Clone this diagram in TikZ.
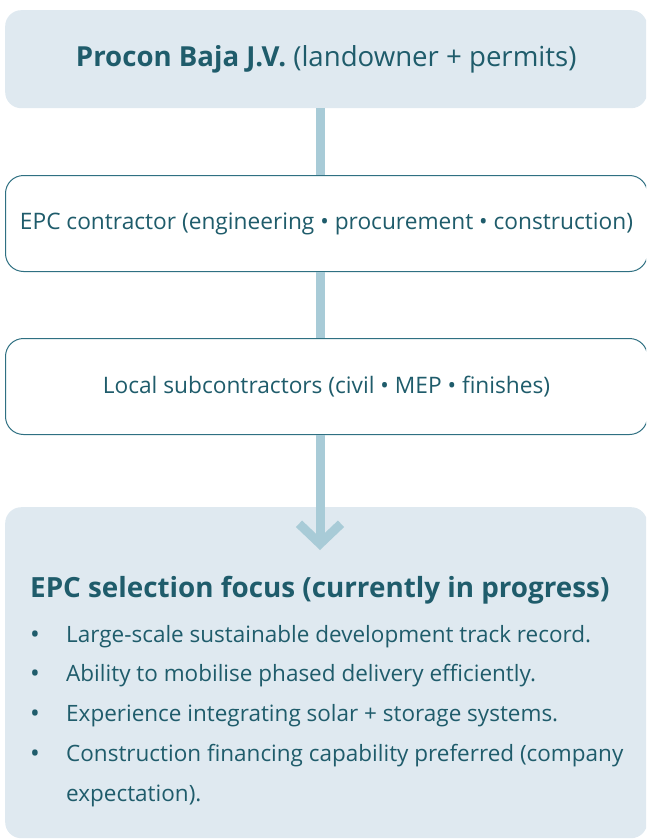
\documentclass[tikz,border=0pt]{standalone}
\usepackage{fontspec}
\setmainfont{Open Sans}
\usetikzlibrary{arrows.meta}
\definecolor{boxfill}{HTML}{DFE9F0}
\definecolor{barblue}{HTML}{A8CBD7}
\definecolor{ink}{HTML}{1F5C6B}
\definecolor{edge}{HTML}{2F7082}
\begin{document}
\begin{tikzpicture}[x=1pt,y=-1pt,
  panel/.style={fill=boxfill, draw=none, rounded corners=16pt, anchor=north west,
    minimum width=642pt, inner sep=0pt, text=ink},
  outline/.style={fill=white, draw=edge, line width=1pt, rounded corners=18pt, anchor=north west,
    minimum width=642pt, minimum height=96pt, inner sep=0pt, text=ink, font=\fontsize{22.7}{27}\selectfont},
  bar/.style={draw=barblue, line width=9pt},
  bullet/.style={anchor=base west, inner sep=0pt, text=ink, font=\fontsize{22.5}{27}\selectfont},
  dotmark/.style={anchor=base west, inner sep=0pt, text=ink, font=\fontsize{26}{27}\selectfont},
]
\useasboundingbox (0,0) rectangle (646,840);
\begin{scope}
\clip (0,0) rectangle (646,840);
% boxes
\node[panel, minimum height=98pt, font=\fontsize{27.6}{32}\selectfont] (owner) at (5,10)
  {\textbf{Procon Baja J.V.} (landowner + permits)};
\node[outline] (epc) at (5,175) {EPC contractor (engineering • procurement • construction)};
\node[outline] (sub) at (5,338) {Local subcontractors (civil • MEP • finishes)};
\node[panel, minimum height=331pt] (focus) at (5,507) {};
% spine of the flow
\coordinate (spine) at (320,0);
\coordinate (tip) at (320,550);
\draw[bar] (owner.south -| spine) -- (epc.north -| spine);
\draw[bar] (epc.south -| spine) -- (sub.north -| spine);
\draw[bar, -{Straight Barb[length=20pt, width=42pt]}] (sub.south -| spine) -- (tip);
% focus panel contents
\node[anchor=base west, inner sep=0pt, text=ink, font=\fontsize{27.8}{32}\selectfont\bfseries]
  (head) at (30,597) {EPC selection focus (currently in progress)};
\foreach \y/\t [count=\i] in {642/Large-scale sustainable development track record.,
    681/Ability to mobilise phased delivery efficiently.,
    721/Experience integrating solar + storage systems.,
    761/Construction financing capability preferred (company} {
  \node[dotmark] (dot\i) at (30,\y+1) {•};
  \node[bullet] (item\i) at (66,\y) {\t};
}
\node[bullet] (item5) at (66,801) {expectation).};
\end{scope}
\end{tikzpicture}
\end{document}
